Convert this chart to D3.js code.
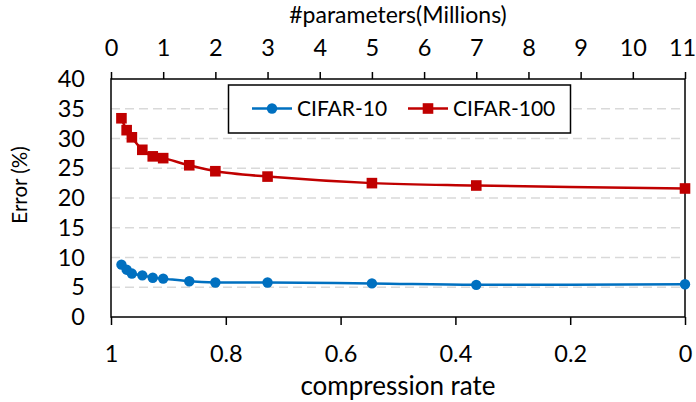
<!DOCTYPE html>
<html lang="en">
<head>
<meta charset="utf-8">
<title>Error vs compression</title>
<script src="https://d3js.org/d3.v7.min.js"></script>
<style>
  body { margin: 0; padding: 0; background: #fff; }
  svg { display: block; font-family: Lato, "Open Sans", sans-serif; }
</style>
</head>
<body>
<svg id="chart" width="696" height="402"></svg>
<script>
// values
const params = [0.2, 0.3, 0.4, 0.6, 0.8, 1.0, 1.5, 2.0, 3.0, 5.0, 7.0, 11.0];
const cifar10 = [8.8, 7.95, 7.3, 7.0, 6.6, 6.45, 6.0, 5.8, 5.8, 5.65, 5.4, 5.5];
const cifar100 = [33.4, 31.4, 30.2, 28.1, 27.0, 26.7, 25.5, 24.5, 23.6, 22.5, 22.1, 21.6];
const rateTicks = [1, 0.8, 0.6, 0.4, 0.2, 0];
const paramTicks = d3.range(0, 12);
const errorTicks = d3.range(0, 45, 5);

const series = [
  { name: 'CIFAR-10', values: cifar10, color: '#0070c0', shape: 'circle' },
  { name: 'CIFAR-100', values: cifar100, color: '#c00000', shape: 'square' }
];

const W = 696, H = 402;
const m = { top: 79, right: 11, bottom: 85, left: 111 };
const svg = d3.select('#chart');

const x = d3.scaleLinear().domain([0, 11]).range([m.left, W - m.right]);
const xRate = d3.scaleLinear().domain([1, 0]).range([m.left, W - m.right]);
const y = d3.scaleLinear().domain([0, 40]).range([H - m.bottom, m.top]);

// gridlines
svg.append('g')
  .selectAll('line')
  .data(errorTicks.filter(d => d > 0 && d < 40))
  .join('line')
  .attr('x1', m.left).attr('x2', W - m.right)
  .attr('y1', d => y(d)).attr('y2', d => y(d))
  .attr('stroke', '#d9d9d9').attr('stroke-width', 1.5)
  .attr('stroke-dasharray', '9,5');

// frame
svg.append('rect')
  .attr('x', m.left).attr('y', m.top)
  .attr('width', W - m.left - m.right).attr('height', H - m.top - m.bottom)
  .attr('fill', 'none').attr('stroke', '#000').attr('stroke-width', 1.5);

const tickFont = '23.5px';

// bottom axis
const axBottom = svg.append('g')
  .attr('transform', `translate(0,${H - m.bottom})`)
  .call(d3.axisBottom(xRate).tickValues(rateTicks).tickFormat(d3.format('')).tickSize(8).tickPadding(20));
// top axis
const axTop = svg.append('g')
  .attr('transform', `translate(0,${m.top})`)
  .call(d3.axisTop(x).tickValues(paramTicks).tickSize(7).tickPadding(16));
// left axis
const axLeft = svg.append('g')
  .attr('transform', `translate(${m.left},0)`)
  .call(d3.axisLeft(y).tickValues(errorTicks).tickSize(0).tickPadding(26));

[axBottom, axTop, axLeft].forEach(g => {
  g.select('.domain').remove();
  g.selectAll('.tick line').attr('stroke', '#000').attr('stroke-width', 1.5);
  g.selectAll('text').attr('font-size', tickFont).attr('fill', '#000')
    .attr('font-family', 'Lato, "Open Sans", sans-serif');
});
// last top label sits a little inside the edge
axTop.selectAll('.tick text').filter(d => d === 11).attr('dx', -3);

// axis titles
svg.append('text')
  .attr('x', (m.left + W - m.right) / 2).attr('y', 395)
  .attr('text-anchor', 'middle').attr('font-size', '26px')
  .text('compression rate');
svg.append('text')
  .attr('x', (m.left + W - m.right) / 2).attr('y', 23)
  .attr('text-anchor', 'middle').attr('font-size', '23px')
  .text('#parameters(Millions)');
svg.append('text')
  .attr('transform', 'translate(27,185) rotate(-90)')
  .attr('text-anchor', 'middle').attr('font-size', '20.5px')
  .text('Error (%)');

// lines and markers
const line = d3.line()
  .x((d, i) => x(params[i]))
  .y(d => y(d))
  .curve(d3.curveCatmullRom);

function marker(g, s, cx, cy) {
  if (s.shape === 'circle') {
    g.append('circle').attr('cx', cx).attr('cy', cy).attr('r', 5.2).attr('fill', s.color);
  } else {
    g.append('rect').attr('x', cx - 5.3).attr('y', cy - 5.3)
      .attr('width', 10.6).attr('height', 10.6).attr('fill', s.color);
  }
}

series.forEach(s => {
  const g = svg.append('g');
  g.append('path').attr('d', line(s.values))
    .attr('fill', 'none').attr('stroke', s.color).attr('stroke-width', 2.5);
  s.values.forEach((v, i) => marker(g, s, x(params[i]), y(v)));
});

// legend
const lg = svg.append('g');
lg.append('rect')
  .attr('x', 228.5).attr('y', 85).attr('width', 342).attr('height', 48)
  .attr('fill', '#fff').attr('stroke', '#000').attr('stroke-width', 1.5);
const legendX = [252, 408];
series.forEach((s, i) => {
  const lx = legendX[i], ly = 108.5;
  lg.append('line').attr('x1', lx).attr('x2', lx + 40).attr('y1', ly).attr('y2', ly)
    .attr('stroke', s.color).attr('stroke-width', 2.5);
  marker(lg, s, lx + 20, ly);
  lg.append('text').attr('x', lx + 45).attr('y', ly).attr('dy', '0.36em')
    .attr('font-size', '21px').text(s.name);
});
</script>
</body>
</html>
